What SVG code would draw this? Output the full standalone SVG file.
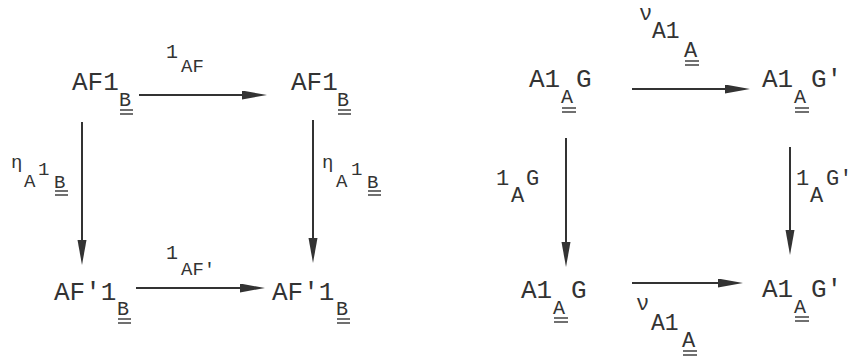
<svg xmlns="http://www.w3.org/2000/svg" width="853" height="360" viewBox="0 0 853 360">
<style>
text{font-family:"Liberation Mono","DejaVu Sans Mono",monospace;fill:#333}
.m{font-size:26px}
.n{font-size:20px}
.e{font-size:19px}
.v{font-size:22px}
.w{font-size:23px}
.u{stroke:#333;stroke-width:1.4}
.c{stroke:#333;stroke-width:2;fill:none;marker-end:url(#ah)}
</style>
<defs>
<marker id="ah" markerUnits="userSpaceOnUse" markerWidth="26" markerHeight="10" refX="10" refY="4.5" orient="auto">
<path d="M0,0 L25,4.5 L0,9 z" fill="#333"/>
</marker>
</defs>
<rect width="853" height="360" fill="#fff"/>
<g id="connectors">
<line class="c" x1="139" y1="95" x2="252" y2="95"/>
<line class="c" x1="136" y1="288" x2="250" y2="288"/>
<line class="c" x1="82" y1="122" x2="82" y2="250"/>
<line class="c" x1="313" y1="120" x2="313" y2="248"/>
<line class="c" x1="632" y1="89" x2="735" y2="89"/>
<line class="c" x1="632" y1="283" x2="728" y2="283"/>
<line class="c" x1="566" y1="138" x2="566" y2="252"/>
<line class="c" x1="790" y1="147" x2="790" y2="240"/>
</g>
<g id="labels">
<text class="n" x="166" y="58">1</text><text class="e" x="181" y="72">AF</text>
<text class="n" x="166" y="259">1</text><text class="e" x="181" y="275">AF'</text>
<text class="e" x="11" y="168">η</text><text class="e" x="24" y="187">A</text><text class="e" x="38" y="175">1</text><text class="e" x="54" y="188">B</text>
<line class="u" x1="55" y1="191" x2="68" y2="191"/><line class="u" x1="55" y1="195" x2="68" y2="195"/>
<text class="e" x="322" y="168">η</text><text class="e" x="336" y="187">A</text><text class="e" x="351" y="175">1</text><text class="e" x="367" y="188">B</text>
<line class="u" x1="368" y1="191" x2="381" y2="191"/><line class="u" x1="368" y1="195" x2="381" y2="195"/>
<text class="v" x="639" y="20">ν</text><text class="w" x="652" y="38">A1</text><text class="v" x="684" y="57">A</text>
<line class="u" x1="685" y1="61" x2="699" y2="61"/><line class="u" x1="685" y1="65" x2="699" y2="65"/>
<text class="v" x="636" y="310">ν</text><text class="w" x="651" y="330">A1</text><text class="v" x="682" y="347">A</text>
<line class="u" x1="683" y1="351" x2="697" y2="351"/><line class="u" x1="683" y1="355" x2="697" y2="355"/>
<text class="v" x="496" y="185">1</text><text class="v" x="511" y="202">A</text><text class="v" x="526" y="185">G</text>
<text class="v" x="796" y="185">1</text><text class="v" x="810" y="202">A</text><text class="v" x="826" y="185">G'</text>
</g>
<g id="n1">
<text class="m" x="72" y="90">AF1</text><text class="n" x="119" y="106">B</text>
<line class="u" x1="120" y1="110" x2="133" y2="110"/><line class="u" x1="120" y1="114" x2="133" y2="114"/>
</g>
<g id="n2">
<text class="m" x="291" y="90">AF1</text><text class="n" x="337" y="106">B</text>
<line class="u" x1="338" y1="110" x2="351" y2="110"/><line class="u" x1="338" y1="114" x2="351" y2="114"/>
</g>
<g id="n3">
<text class="m" x="54" y="300">AF'1</text><text class="n" x="117" y="315">B</text>
<line class="u" x1="118" y1="319" x2="131" y2="319"/><line class="u" x1="118" y1="323" x2="131" y2="323"/>
</g>
<g id="n4">
<text class="m" x="272" y="300">AF'1</text><text class="n" x="336" y="315">B</text>
<line class="u" x1="337" y1="319" x2="350" y2="319"/><line class="u" x1="337" y1="323" x2="350" y2="323"/>
</g>
<g id="n5">
<text class="m" x="529" y="87">A1</text><text class="n" x="561" y="103">A</text><text class="m" x="576" y="87">G</text>
<line class="u" x1="562" y1="108" x2="576" y2="108"/><line class="u" x1="562" y1="112" x2="576" y2="112"/>
</g>
<g id="n6">
<text class="m" x="762" y="87">A1</text><text class="n" x="794" y="103">A</text><text class="m" x="811" y="87">G'</text>
<line class="u" x1="795" y1="108" x2="809" y2="108"/><line class="u" x1="795" y1="112" x2="809" y2="112"/>
</g>
<g id="n7">
<text class="m" x="521" y="298">A1</text><text class="n" x="553" y="314">A</text><text class="m" x="571" y="298">G</text>
<line class="u" x1="554" y1="318" x2="568" y2="318"/><line class="u" x1="554" y1="322" x2="568" y2="322"/>
</g>
<g id="n8">
<text class="m" x="762" y="297">A1</text><text class="n" x="794" y="313">A</text><text class="m" x="811" y="297">G'</text>
<line class="u" x1="795" y1="317" x2="809" y2="317"/><line class="u" x1="795" y1="321" x2="809" y2="321"/>
</g>
</svg>
